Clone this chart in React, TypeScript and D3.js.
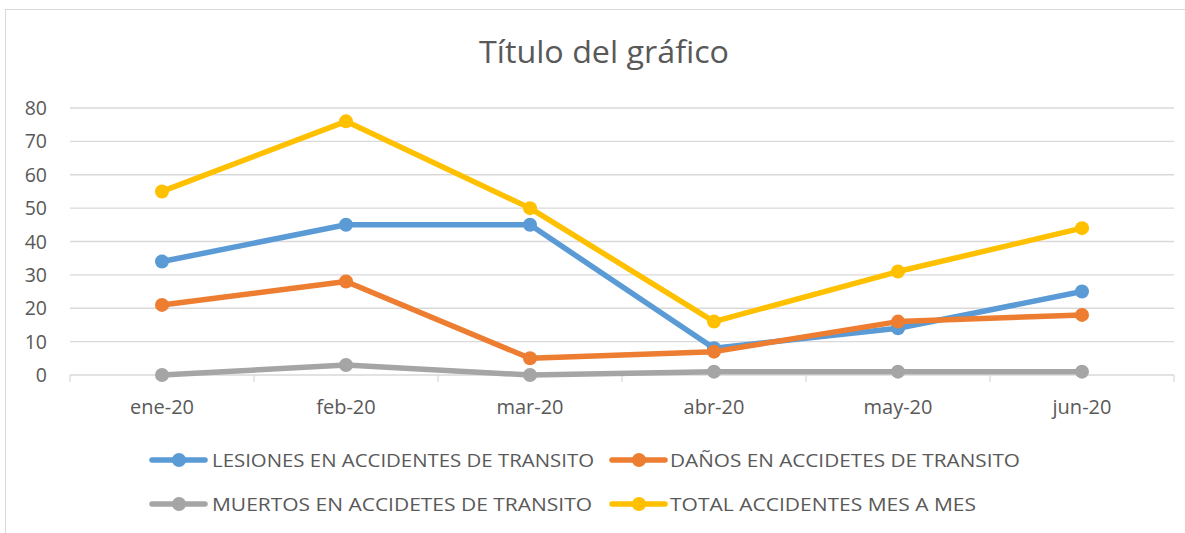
import React from 'react'
import * as d3 from 'd3'

// ===== data =====
const months = ['ene-20', 'feb-20', 'mar-20', 'abr-20', 'may-20', 'jun-20']
const lesiones = [34, 45, 45, 8, 14, 25]
const danos = [21, 28, 5, 7, 16, 18]
const muertos = [0, 3, 0, 1, 1, 1]
const total = [55, 76, 50, 16, 31, 44]
const yTicks = [0, 10, 20, 30, 40, 50, 60, 70, 80]

const seriesNames = [
  'LESIONES EN ACCIDENTES DE TRANSITO',
  'DAÑOS EN ACCIDETES DE TRANSITO',
  'MUERTOS EN ACCIDETES DE TRANSITO',
  'TOTAL ACCIDENTES MES A MES',
]
const seriesColors = ['#5B9BD5', '#ED7D31', '#A5A5A5', '#FFC000']
// draw order: later on top
const seriesData = [lesiones, danos, muertos, total]

const W = 1185
const H = 533
const FONT = "'Open Sans', 'Noto Sans', sans-serif"
const TEXT = '#595959'

export default function App() {
  const x = d3.scaleBand<string>().domain(months).range([70, 1174])
  const y = d3.scaleLinear().domain([0, 80]).range([375, 108])
  const cx = (m: string) => (x(m) as number) + x.bandwidth() / 2

  const line = d3.line<number>()
    .x((_, i) => cx(months[i]))
    .y(d => y(d))

  // legend slots: [lineStart, textStart, rowY, textWidth]
  const legendSlots = [
    [152, 212, 460, 382],
    [612, 670, 460, 350],
    [152, 212, 504, 380],
    [612, 670, 504, 306],
  ]

  return (
    <svg width={W} height={H} style={{position: 'absolute', left: 0, top: 0, background: '#fff'}}
      fontFamily={FONT}>
      <rect x={5.5} y={9.5} width={W} height={H} fill="#fff" stroke="#D9D9D9" strokeWidth={1} />

      <text x={604} y={63} textAnchor="middle" fontSize={31} fill={TEXT} textLength={250} lengthAdjust="spacingAndGlyphs">
        Título del gráfico
      </text>

      {/* gridlines */}
      <g>
        {yTicks.map(t => (
          <line key={t} x1={70} x2={1174} y1={y(t)} y2={y(t)} stroke="#D9D9D9" strokeWidth={1.3} />
        ))}
      </g>
      {/* x-axis ticks */}
      <g>
        {[...months.map(m => x(m) as number), 1174].map((v, i) => (
          <line key={i} x1={v} x2={v} y1={y(0)} y2={y(0) + 7} stroke="#D9D9D9" strokeWidth={1.3} />
        ))}
      </g>
      {/* y labels */}
      <g textAnchor="end" fontSize={19.5} fill={TEXT}>
        {yTicks.map(t => (
          <text key={t} x={47} y={y(t) + 7}>{t}</text>
        ))}
      </g>
      {/* x labels */}
      <g textAnchor="middle" fontSize={20} fill={TEXT}>
        {months.map(m => (
          <text key={m} x={cx(m)} y={414}>{m}</text>
        ))}
      </g>

      {/* series */}
      {seriesData.map((s, k) => (
        <g key={k}>
          <path d={line(s) || ''} fill="none" stroke={seriesColors[k]} strokeWidth={5.5} strokeLinejoin="round" strokeLinecap="round" />
          {s.map((v, i) => (
            <circle key={i} cx={cx(months[i])} cy={y(v)} r={7} fill={seriesColors[k]} />
          ))}
        </g>
      ))}

      {/* legend */}
      {seriesNames.map((name, k) => {
        const [lx, tx, ly, tl] = legendSlots[k]
        return (
          <g key={name}>
            <line x1={lx} x2={lx + 53} y1={ly} y2={ly} stroke={seriesColors[k]} strokeWidth={5.5} strokeLinecap="round" />
            <circle cx={lx + 27} cy={ly} r={7} fill={seriesColors[k]} />
            <text x={tx} y={ly + 7} fontSize={18.5} fill={TEXT} textLength={tl} lengthAdjust="spacingAndGlyphs">{name}</text>
          </g>
        )
      })}
    </svg>
  )
}
